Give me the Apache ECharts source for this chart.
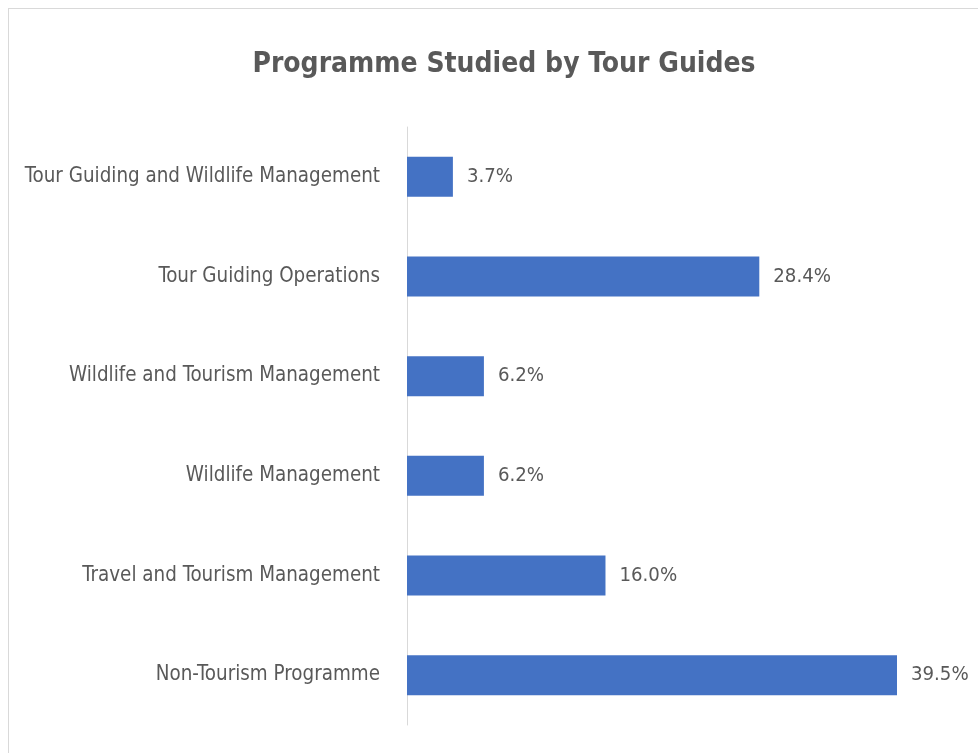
<!DOCTYPE html>
<html>
<head>
<meta charset="utf-8">
<script src="https://cdn.jsdelivr.net/npm/echarts@6/dist/echarts.min.js"></script>
<style>
  html, body { margin: 0; padding: 0; background: #fff; overflow: hidden; }
  #frame {
    position: absolute; left: 8px; top: 8px; width: 990px; height: 780px;
    border: 1px solid #d9d9d9; box-sizing: border-box;
  }
  #chart { position: absolute; left: 0; top: 0; width: 978px; height: 753px; }
</style>
</head>
<body>
<div id="frame"></div>
<div id="chart"></div>
<script>
// categories, top to bottom
const programmes = [
  'Tour Guiding and Wildlife Management',
  'Tour Guiding Operations',
  'Wildlife and Tourism Management',
  'Wildlife Management',
  'Travel and Tourism Management',
  'Non-Tourism Programme'
]
// share of tour guides (%)
const shares = [3.7, 28.4, 6.2, 6.2, 16.0, 39.5]

const font = '"Liberation Sans Narrow", "DejaVu Sans Condensed", sans-serif'
const textColor = '#595959'

function draw () {
  const chart = echarts.init(document.getElementById('chart'), null, { renderer: 'canvas' })

  chart.setOption({
    animation: false,
    title: {
      text: 'Programme Studied by Tour Guides',
      left: 499,
      top: 46,
      textAlign: 'center',
      textStyle: { fontFamily: font, fontSize: 28, fontWeight: 'bold', color: textColor }
    },
    grid: { left: 407, right: 81, top: 127, bottom: 28 },
    xAxis: {
      type: 'value',
      min: 0,
      max: 39.5,
      show: false
    },
    yAxis: {
      type: 'category',
      data: programmes,
      inverse: true,
      axisLine: { show: true, lineStyle: { color: '#d9d9d9', width: 1 } },
      axisTick: { show: false },
      axisLabel: {
        margin: 27,
        fontFamily: font,
        fontSize: 20.4,
        color: textColor
      }
    },
    series: [{
      type: 'bar',
      data: shares,
      barWidth: 40,
      itemStyle: { color: '#4472c4' },
      label: {
        show: true,
        position: 'right',
        distance: 14,
        fontFamily: font,
        fontSize: 20.2,
        color: textColor,
        formatter: p => p.value.toFixed(1) + '%'
      }
    }]
  })
}

// make sure the narrow face is ready before the canvas measures text
Promise.all([
  document.fonts.load('20px "Liberation Sans Narrow"'),
  document.fonts.load('bold 28px "Liberation Sans Narrow"')
]).then(draw, draw)
</script>
</body>
</html>
